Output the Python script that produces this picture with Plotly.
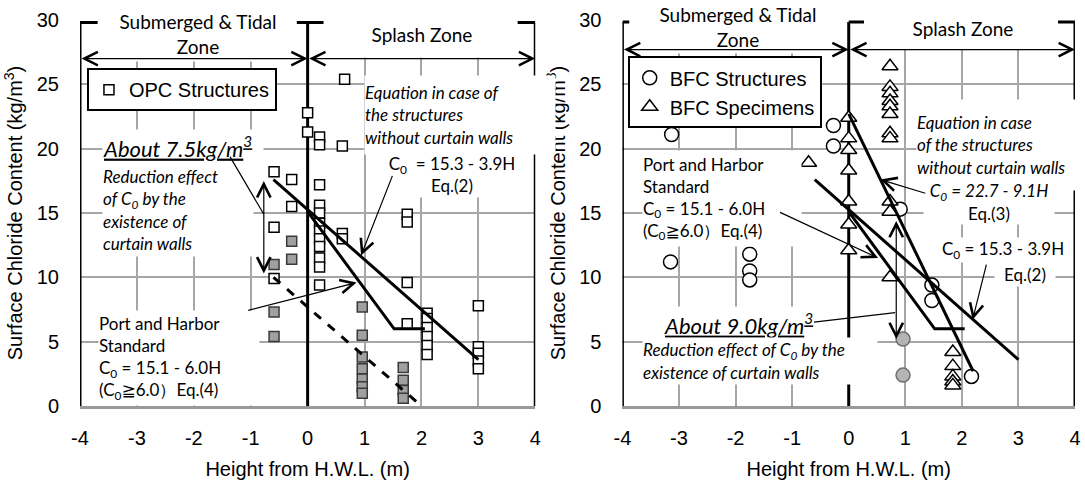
import plotly.graph_objects as go

# ---------------- data ----------------
# Left panel: OPC structures (open squares)
opc_h = [0.65, 0.0, 0.0, 0.21, 0.21, 0.61, -0.59, -0.28, 0.21, -0.28,
         0.21, 0.21, 0.21, 0.21, 0.21, 0.21, 0.21, 0.21, 0.21,
         -0.59, -0.59, 0.61, 0.61,
         1.75, 1.75, 1.75, 1.75,
         2.1, 2.1, 2.1, 2.1, 2.1, 2.1,
         3.0, 3.0, 3.0, 3.0, 3.0]
opc_c = [25.4, 22.8, 21.3, 20.9, 20.3, 20.2, 18.2, 17.6, 17.2, 15.5,
         15.6, 15.0, 14.2, 13.6, 13.0, 12.4, 11.5, 10.8, 9.4,
         13.9, 9.9, 13.4, 13.0,
         14.9, 14.3, 9.6, 6.4,
         7.2, 6.8, 6.1, 5.4, 4.7, 4.0,
         7.8, 4.6, 4.1, 3.5, 2.9]
# OPC structures with curtain walls (grey squares)
opc_cw_h = [-0.28, -0.28, -0.59, -0.59, -0.59, 0.96, 0.96, 0.96, 0.96, 0.96,
            0.96, 0.96, 1.68, 1.68, 1.68, 1.68]
opc_cw_c = [12.8, 11.4, 11.0, 7.3, 5.4, 7.7, 5.5, 3.8, 2.9, 2.1,
            1.5, 1.0, 3.0, 2.0, 1.2, 0.6]

# Right panel: BFC structures (open circles)
bfc_s_h = [-3.13, -3.15, -1.75, -1.75, -1.75, -0.27, -0.27, 0.91, 1.47, 1.47, 2.17]
bfc_s_c = [21.1, 11.2, 11.8, 10.5, 9.8, 21.8, 20.2, 15.3, 9.4, 8.2, 2.3]
# BFC structures with curtain walls (grey circles)
bfc_cw_h = [0.96, 0.96]
bfc_cw_c = [5.2, 2.4]
# BFC specimens (open triangles)
bfc_sp_h = [0.0, 0.0, 0.0, 0.0, 0.0, 0.0, 0.0, -0.71,
            0.73, 0.73, 0.73, 0.73, 0.73, 0.73, 0.73, 0.73, 0.73, 0.73, 0.73,
            1.84, 1.84, 1.84, 1.84, 1.84]
bfc_sp_c = [22.4, 20.8, 19.9, 18.3, 15.9, 14.1, 12.1, 18.9,
            26.4, 24.8, 24.3, 23.7, 23.3, 22.7, 21.2, 20.8, 15.9, 15.1, 10.0,
            4.2, 3.1, 2.3, 1.9, 1.6]

# Regression / standard lines
eq2_h = [-0.6, 3.0]
eq2_c = [17.6, 3.6]            # C0 = 15.3 - 3.9H
eq4_h = [0.0, 1.52, 2.06]
eq4_c = [15.1, 6.0, 6.0]        # C0 = 15.1 - 6.0H (C0 >= 6.0)
cw_h = [-0.6, 2.0]
cw_c = [10.0, 0.0]              # with curtain walls (dashed)
eq3_h = [0.0, 2.2]
eq3_c = [22.7, 2.7]             # C0 = 22.7 - 9.1H
eq4r_h = [0.0, 1.52, 2.05]
eq4r_c = [15.1, 6.0, 6.0]

x_ticks = [-4, -3, -2, -1, 0, 1, 2, 3, 4]
x_labels = ["-4", "-3", "-2", "-1", "0", "1", "2", "3", "4"]
y_ticks = [0, 5, 10, 15, 20, 25, 30]
x_grid = [-3, -2, -1, 1, 2, 3]
y_grid = [5, 10, 15, 20, 25]

# ---------------- layout helpers ----------------
W, H = 1085, 481
ML, MR, MT, MB = 80, 4, 20, 68
PW, PH = W - ML - MR, H - MT - MB


def PX(px):
    return (px - ML) / PW


def PY(py):
    return (H - MB - py) / PH


TICKFONT = dict(family="Liberation Sans, Arial", size=20, color="black")
BOXFONT = "Lato, Noto Sans, DejaVu Sans"

fig = go.Figure()

sq_open = dict(symbol="square", size=10, color="white", line=dict(color="black", width=1.5))
sq_grey = dict(symbol="square", size=10, color="#a0a0a0", line=dict(color="#3a3a3a", width=1.5))
ci_open = dict(symbol="circle", size=14, color="white", line=dict(color="black", width=1.5))
ci_grey = dict(symbol="circle", size=14, color="#b4b4b4", line=dict(color="#6f6f6f", width=1.5))
tr_open = dict(symbol="triangle-up", size=14, color="white", line=dict(color="black", width=1.5))

fig.add_trace(go.Scatter(x=opc_h, y=opc_c, mode="markers", marker=sq_open,
                         name="OPC Structures", legend="legend", xaxis="x", yaxis="y"))
fig.add_trace(go.Scatter(x=opc_cw_h, y=opc_cw_c, mode="markers", marker=sq_grey,
                         showlegend=False, xaxis="x", yaxis="y"))
fig.add_trace(go.Scatter(x=eq2_h, y=eq2_c, mode="lines", line=dict(color="black", width=3),
                         showlegend=False, xaxis="x", yaxis="y"))
fig.add_trace(go.Scatter(x=eq4_h, y=eq4_c, mode="lines", line=dict(color="black", width=3),
                         showlegend=False, xaxis="x", yaxis="y"))
fig.add_trace(go.Scatter(x=cw_h, y=cw_c, mode="lines",
                         line=dict(color="black", width=3, dash="dash"),
                         showlegend=False, xaxis="x", yaxis="y"))

fig.add_trace(go.Scatter(x=bfc_s_h, y=bfc_s_c, mode="markers", marker=ci_open,
                         name="BFC Structures", legend="legend2", xaxis="x2", yaxis="y2"))
fig.add_trace(go.Scatter(x=bfc_sp_h, y=bfc_sp_c, mode="markers", marker=tr_open,
                         name="BFC Specimens", legend="legend2", xaxis="x2", yaxis="y2"))
fig.add_trace(go.Scatter(x=bfc_cw_h, y=bfc_cw_c, mode="markers", marker=ci_grey,
                         showlegend=False, xaxis="x2", yaxis="y2"))
for hx, cy in [(eq3_h, eq3_c), (eq2_h, eq2_c), (eq4r_h, eq4r_c)]:
    fig.add_trace(go.Scatter(x=hx, y=cy, mode="lines", line=dict(color="black", width=3),
                             showlegend=False, xaxis="x2", yaxis="y2"))

xax = dict(range=[-4, 4], tickvals=x_ticks, ticktext=x_labels, ticks="", showgrid=False,
           zeroline=False, showline=True, linecolor="#999999", linewidth=3, tickfont=TICKFONT,
           ticklabelstandoff=12,
           minor=dict(tickvals=x_grid, showgrid=True, gridcolor="#a6a6a6", gridwidth=1.5, ticks=""),
           title=dict(text="Height from H.W.L. (m)", font=TICKFONT, standoff=14))
yax = dict(range=[0, 30], tickvals=y_ticks, ticks="", showgrid=False, zeroline=False,
           showline=False, tickfont=TICKFONT, ticklabelstandoff=20,
           minor=dict(tickvals=y_grid, showgrid=True, gridcolor="#a6a6a6", gridwidth=1.5, ticks=""),
           title=dict(text="Surface Chloride Content (kg/m<sup>3</sup>)", font=TICKFONT, standoff=8))

fig.update_layout(
    width=W, height=H, margin=dict(l=ML, r=MR, t=MT, b=MB),
    paper_bgcolor="white", plot_bgcolor="white",
    xaxis=dict(xax, domain=[0, PX(538)], anchor="y"),
    yaxis=dict(yax, domain=[0, 1], anchor="x"),
    xaxis2=dict(xax, domain=[PX(625.7), PX(1081)], anchor="y2"),
    yaxis2=dict(yax, domain=[0, 1], anchor="x2"),
    legend=dict(x=PX(87), y=PY(69), xanchor="left", yanchor="top", bgcolor="white",
                bordercolor="black", borderwidth=2, font=TICKFONT, itemwidth=30),
    legend2=dict(x=PX(631), y=PY(57), xanchor="left", yanchor="top", bgcolor="white",
                 bordercolor="black", borderwidth=2, font=TICKFONT, itemwidth=30,
                 tracegroupgap=0),
)

# ---------------- zone brackets (thick black) ----------------
shapes = []


def seg(xref, yref, x0, y0, x1, y1):
    shapes.append(dict(type="line", xref=xref, yref=yref, x0=x0, y0=y0, x1=x1, y1=y1,
                       line=dict(color="black", width=3), layer="between"))


for (xr, yr, top, hl, h0, hr) in [("x", "y", 29.8, -3.69, (-0.19, 0.28), 3.69),
                                  ("x2", "y2", 29.85, -3.88, (0.0, 0.27), 3.7)]:
    for xv in (-4, 0, 4):
        seg(xr, yr, xv, 0, xv, top)
    seg(xr, yr, -4, top, hl, top)
    seg(xr, yr, h0[0], top, h0[1], top)
    seg(xr, yr, hr, top, 4, top)
fig.update_layout(shapes=shapes)

# ---------------- annotations ----------------
ann = []


def box(text, left, top, w, h, size, align="left", italic=False, family=BOXFONT):
    ann.append(dict(text=text, xref="paper", yref="paper", x=PX(left), y=PY(top),
                    xanchor="left", yanchor="top", width=w, height=h, showarrow=False,
                    align=align, valign="middle", bgcolor="white", borderpad=0,
                    font=dict(family=family, size=size, color="black",
                              style="italic" if italic else "normal")))


def arrow(xr, yr, x, y, ax, ay, head=5, both=False, size=2.2):
    ann.append(dict(text="", xref=xr, yref=yr, axref=xr, ayref=yr, x=x, y=y, ax=ax, ay=ay,
                    showarrow=True, arrowhead=head, arrowsize=size, arrowwidth=1.2,
                    arrowcolor="black", arrowside="end+start" if both else "end"))


# left panel text boxes
box("Submerged & Tidal<br>Zone", 100, 6, 194, 54, 19, align="center")
box("Splash Zone", 330, 10, 184, 46, 19, align="center")
box("<u>About 7.5kg/m<sup>3</sup></u>", 102, 131, 160, 34, 22, italic=True)
box("Reduction effect<br>of C<sub>0</sub> by the<br>existence of<br>curtain walls",
    102, 166, 150, 92, 17, italic=True)
box("Equation in case of<br>the structures<br>without curtain walls", 366, 76, 190, 78, 17, italic=True)
box("C<sub>0</sub>  = 15.3 - 3.9H<br>Eq.(2)", 388, 153, 130, 45, 17, align="center")
box("Port and Harbor<br>Standard<br>C<sub>0</sub> = 15.1 - 6.0H<br>(C<sub>0</sub>≧6.0）Eq.(4)",
    98, 315, 160, 94, 17)

# right panel text boxes
box("Submerged & Tidal<br>Zone", 648, 0, 184, 52, 19, align="center")
box("Splash Zone", 875, 6, 184, 42, 19, align="center")
box("Port and Harbor<br>Standard<br>C<sub>0</sub> = 15.1 - 6.0H<br>(C<sub>0</sub>≧6.0）Eq.(4)",
    645, 152, 158, 95, 17)
box("Equation in case<br>of the structures<br>without curtain walls", 921, 100, 164, 90, 17, italic=True)
box("<i>C<sub>0</sub> = 22.7 - 9.1H</i><br>Eq.(3)", 928, 182, 130, 44, 17, align="center")
box("C<sub>0</sub> = 15.3 - 3.9H", 946, 241, 124, 24, 17)
box("Eq.(2)", 1000, 265, 60, 24, 17, align="center")
box("<u>About 9.0kg/m<sup>3</sup></u>", 667, 311, 162, 34, 22, italic=True)
box("Reduction effect of C<sub>0</sub> by the<br>existence of curtain walls", 645, 343, 234, 46, 17,
    italic=True)

# left panel arrows / leader lines
arrow("x", "y", 0, 27.0, -4, 27.0, both=True)
arrow("x", "y", 4, 27.0, 0, 27.0, both=True)
arrow("x", "y", -0.77, 14.9, -1.38, 19.5, head=0)
arrow("x", "y", -0.77, 10.3, -0.77, 17.6, both=True)
arrow("x", "y", 0.94, 11.7, 1.5, 18.0)
arrow("x", "y", 0.86, 9.6, -1.07, 7.4)

# right panel arrows / leader lines
arrow("x2", "y2", 0, 27.7, -4, 27.7, both=True)
arrow("x2", "y2", 4, 27.7, 0, 27.7, both=True)
arrow("x2", "y2", 0.52, 11.5, -1.24, 15.1)
arrow("x2", "y2", 0.56, 17.6, 1.38, 16.5)
arrow("x2", "y2", 2.19, 6.7, 2.44, 11.1)
arrow("x2", "y2", 0.84, 5.2, 0.84, 14.5, both=True)
arrow("x2", "y2", 0.82, 7.25, -0.64, 6.5, head=0)

fig.update_layout(annotations=ann)

fig.write_html("out.html")
